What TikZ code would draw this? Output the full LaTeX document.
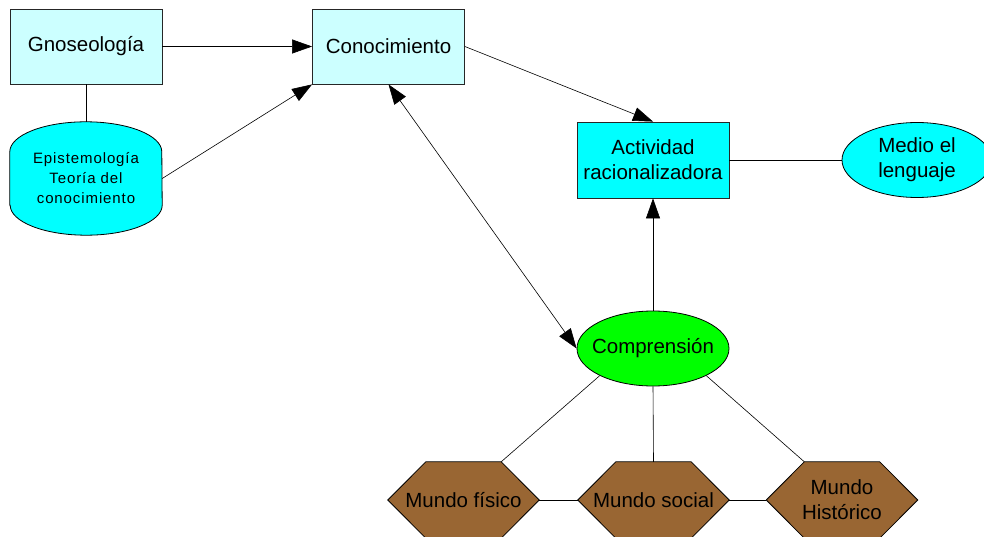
\documentclass[tikz,border=0pt]{standalone}
\usepackage{fontspec}
\setmainfont{Liberation Sans}
\usetikzlibrary{arrows.meta,shapes.geometric,calc,backgrounds}
\definecolor{lcyan}{HTML}{CCFFFF}
\definecolor{cyanf}{HTML}{00FFFF}
\definecolor{greenf}{HTML}{00FF00}
\definecolor{brownf}{HTML}{996633}
\begin{document}
\begin{tikzpicture}[x=1pt,y=1pt,
  txt/.style={font=\fontsize{20.5}{25}\selectfont, align=center, inner sep=0pt},
  lbox/.style={txt, draw=black!85, line width=0.8pt, fill=lcyan, minimum width=152pt, minimum height=75pt},
  cbox/.style={txt, draw=black!85, line width=0.8pt, fill=cyanf, minimum width=152pt, minimum height=76pt},
  ell/.style={txt, ellipse, draw=black, line width=0.8pt, minimum width=152pt, minimum height=75pt},
  hexnode/.style={txt, minimum width=151pt, minimum height=76pt},
  hexshape/.style={draw=black, line width=0.8pt, fill=brownf},
  drumnode/.style={align=center, inner sep=0pt, minimum width=152pt, minimum height=113pt,
     font=\fontsize{15}{20}\selectfont\addfontfeature{LetterSpace=6}},
  conn/.style={draw=black, line width=0.6pt},
  arr/.style={conn, -{Triangle[length=20pt,width=14pt]}},
  darr/.style={conn, {Triangle[length=20pt,width=14pt]}-{Triangle[length=20pt,width=14pt]}}
]
\useasboundingbox (0,0) rectangle (984,536);

\node[lbox] (gno) at (86,489.5) {Gnoseología};
\node[lbox] (con) at (388.5,489.5) {Conocimiento};
\node[drumnode] (epi) at (86,357.5) {Epistemología\\Teoría del\\conocimiento};
\node[cbox] (act) at (653,376) {Actividad\\racionalizadora};
\node[ell, fill=cyanf, minimum width=150pt] (med) at (917,376) {Medio el\\lenguaje};
\node[ell, fill=greenf] (com) at (653,187.5) {\makebox[0pt]{Comprensión}};
\node[hexnode] (fis) at (463.5,36) {Mundo físico};
\node[hexnode] (soc) at (653.5,36) {Mundo social};
\node[hexnode] (his) at (842,36) {Mundo\\Histórico};

\begin{pgfonlayer}{background}
  \fill[white] (0,0) rectangle (984,536);
  \draw[draw=black, line width=0.8pt, fill=cyanf]
    ($(epi.south west)+(0,30)$) -- ($(epi.north west)+(0,-30)$)
    arc[start angle=180, end angle=0, x radius=76, y radius=30]
    -- ($(epi.south east)+(0,30)$)
    arc[start angle=0, end angle=-180, x radius=76, y radius=30] -- cycle;
  \foreach \n in {fis,soc,his}{
    \draw[hexshape] (\n.west) -- ($(\n.north west)+(38,0)$) -- ($(\n.north east)+(-38,0)$)
      -- (\n.east) -- ($(\n.south east)+(-38,0)$) -- ($(\n.south west)+(38,0)$) -- cycle;
  }
\end{pgfonlayer}

\draw[arr] (gno.east) -- (con.west);
\draw[conn] (gno.south) -- (epi.north);
\draw[arr] (epi.east) -- (con.south west);
\draw[arr] (con.east) -- (act.north);
\draw[darr] (con.south) -- (com.west);
\draw[conn] (act.east) -- (med.west);
\draw[arr] (com.north) -- (act.south);
\draw[conn] (com.207) -- ($(fis.north east)+(-38,0)$);
\draw[conn] (com.south) -- (soc.north);
\draw[conn] (com.333) -- ($(his.north west)+(38,0)$);
\draw[conn] (fis.east) -- (soc.west);
\draw[conn] (soc.east) -- (his.west);
\end{tikzpicture}
\end{document}
